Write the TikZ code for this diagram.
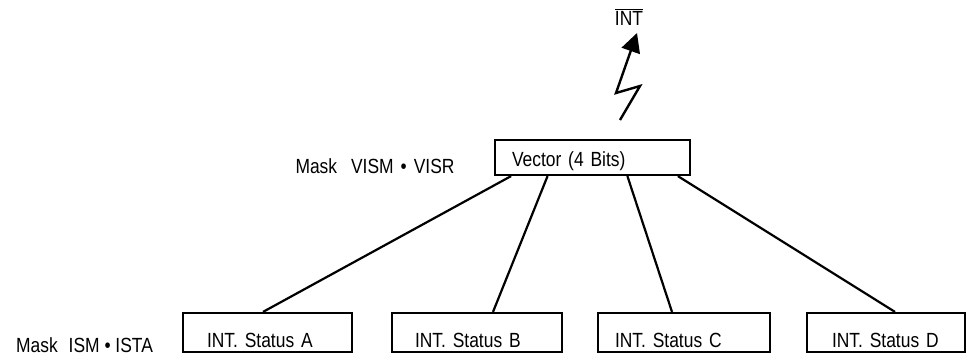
\documentclass[tikz,border=0pt]{standalone}
\usepackage{fontspec}
\setmainfont[FakeStretch=0.85]{Liberation Sans}
\usepackage{tikz}
\usetikzlibrary{calc}
\usetikzlibrary{arrows.meta}
\tikzset{
    regbox/.style={
        draw,
        line width=2.2pt,
        black,
        inner ysep=0pt,
        text height=34pt,
        text depth=5pt,
        anchor=base,
        align=left,
        font=\fontsize{20.5}{22}\selectfont
    },
    % lines from the vector down to the status registers
    treeline/.style={
        line width=2.2pt,
        black
    },
    boltarrow/.style={
        line width=2.4pt,
        black,
        line join=miter,
        -{Triangle[length=19pt, width=19pt]}
    },
    masklabel/.style={
        font=\fontsize{20.5}{22}\selectfont
    }
}

\begin{document}
\begin{tikzpicture}[x=1pt,y=-1pt]
    \useasboundingbox (0,0) rectangle (973,360);

    % vector register and the interrupt output
    \node[regbox, inner xsep=17pt, text width=161pt, text height=26.7pt, text depth=8.3pt] (vec) at (592.5,166.7) {Vector (4 Bits)};
    \node[masklabel, anchor=base] (vmask) at (375,173) {Mask\hspace{14pt}VISM\hspace{7pt}•\hspace{7pt}VISR};
    \node[masklabel, inner sep=0pt, anchor=base] (int) at (629,25) {$\overline{\mbox{INT}}$};
    \path
     (620,120) coordinate (boltfoot)
     (637,33) coordinate (bolttip);
    \draw[boltarrow] (boltfoot) -- (640,86) -- (616,93) -- (bolttip);

    % status registers
    \node[regbox, inner xsep=24pt, text width=121pt] (stA) at (267.5,347) {INT. Status A};
    \node[regbox, inner xsep=23pt, text width=124pt] (stB) at (477,347) {INT. Status B};
    \node[regbox, inner xsep=17pt, text width=138pt] (stC) at (684,347) {INT. Status C};
    \node[regbox, inner xsep=25pt, text width=108pt] (stD) at (886,347) {INT. Status D};
    \node[masklabel, anchor=base] (smask) at (84.5,352) {Mask\hspace{11pt}ISM • ISTA};

    \draw[treeline] ($(vec.south west)!0.087!(vec.south east)$) -- ([xshift=-4.5pt]stA.north);
    \draw[treeline] ($(vec.south west)!0.272!(vec.south east)$) -- ([xshift=16pt]stB.north);
    \draw[treeline] ($(vec.south west)!0.677!(vec.south east)$) -- ([xshift=-12pt]stC.north);
    \draw[treeline] ($(vec.south west)!0.933!(vec.south east)$) -- ([xshift=9pt]stD.north);
\end{tikzpicture}
\end{document}
